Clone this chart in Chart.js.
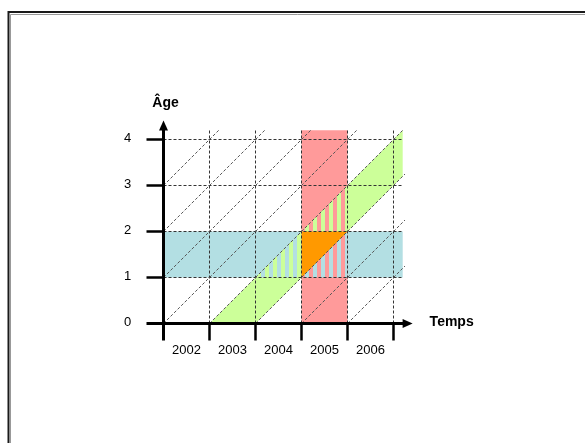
<!DOCTYPE html>
<html><head><meta charset="utf-8">
<script src="https://cdn.jsdelivr.net/npm/chart.js@4/dist/chart.umd.min.js"></script>
<style>html,body{margin:0;padding:0;background:#fff}canvas{display:block}</style>
</head><body>
<canvas id="c" width="585" height="443"></canvas>
<script>
// ---- data ----
const years = ['2002', '2003', '2004', '2005', '2006'];   // x tick labels (one per unit period)
const ages = [0, 1, 2, 3, 4];                              // y tick labels
const ageGroup = [1, 2];        // highlighted age group (blue band)
const period = [3, 4];          // highlighted year 2005 (red band), in units from 2002
const cohort = [1, 2];          // cohort born in 2003 (green band): time - age in [1,2]
const lifelines = [-3, -2, -1, 0, 1, 2, 3, 4];             // diagonal lifelines: time - age = c
const xTitle = 'Temps';
const yTitle = 'Âge';

// ---- extents of the drawn diagram ----
const T_MAX = 5.2, A_MAX = 4.2, T_DIAG = 5.25, T_AXIS = 5.22;

const BLUE = '#b3dfe3', RED = '#ff9a9a', GREEN = '#ccff99', ORANGE = '#ff9900';

function stripes(base, stripe) {
  const cv = document.createElement('canvas');
  cv.width = 8; cv.height = 4;
  const g = cv.getContext('2d');
  g.fillStyle = base; g.fillRect(0, 0, 8, 4);
  g.fillStyle = stripe; g.fillRect(1, 0, 4, 4);
  return g.createPattern(cv, 'repeat');
}

const [a0, a1] = ageGroup, [t0, t1] = period, [c0, c1] = cohort;
function poly(pts, color, order) {
  return { data: pts.map(p => ({x: p[0], y: p[1]})), showLine: true, fill: 'shape',
    backgroundColor: color, borderWidth: 0, borderColor: 'rgba(0,0,0,0)', pointRadius: 0, order };
}
function dashed(pts, color, order) {
  return { data: pts.map(p => ({x: p[0], y: p[1]})), showLine: true, fill: false,
    borderColor: color, borderWidth: 1, borderDash: [3, 2], pointRadius: 0, order };
}

const datasets = [];
datasets.push(poly([[0, a0], [T_MAX, a0], [T_MAX, a1], [0, a1]], BLUE, 100));
datasets.push(poly([[t0, 0], [t1, 0], [t1, A_MAX], [t0, A_MAX]], RED, 99));
datasets.push(poly([[c0, 0], [c1, 0], [T_MAX, T_MAX - c1], [T_MAX, T_MAX - c0]], GREEN, 98));
datasets.push(poly([[a0 + c0, a0], [t0, a0], [t0, t0 - c0]], stripes(BLUE, GREEN), 97));
datasets.push(poly([[t0, a1], [t1, a1], [t1, t1 - c0]], stripes(RED, GREEN), 96));
datasets.push(poly([[t0, a0], [t1, a0], [t1, a1]], stripes(RED, BLUE), 95));
datasets.push(poly([[t0, a0], [t0, a1], [t1, a1]], ORANGE, 94));
ages.slice(1).forEach(a => datasets.push(dashed([[0, a], [T_MAX, a]], '#333', 50)));
years.forEach((y, i) => { if (i > 0) datasets.push(dashed([[i, 0], [i, A_MAX]], '#333', 50)); });
datasets.push(dashed([[years.length, 0], [years.length, A_MAX]], '#333', 50));
lifelines.forEach(c => {
  const ts = Math.max(0, c), te = Math.min(T_DIAG, A_MAX + c);
  datasets.push(dashed([[ts, ts - c], [te, te - c]], '#555', 40));
});

const axesPlugin = {
  id: 'lexisAxes',
  beforeDraw(chart) {
    const ctx = chart.ctx;
    ctx.save();
    ctx.strokeStyle = '#1a1a1a'; ctx.lineWidth = 2;
    ctx.beginPath(); ctx.moveTo(8.5, 443); ctx.lineTo(8.5, 12); ctx.lineTo(585, 12); ctx.stroke();
    ctx.strokeStyle = '#999'; ctx.lineWidth = 1;
    ctx.beginPath(); ctx.moveTo(10.5, 443); ctx.lineTo(10.5, 14.5); ctx.lineTo(585, 14.5); ctx.stroke();
    ctx.restore();
  },
  afterDatasetsDraw(chart) {
    const ctx = chart.ctx, xs = chart.scales.x, ys = chart.scales.y;
    const X = v => xs.getPixelForValue(v), Y = v => ys.getPixelForValue(v);
    const x0 = X(0), y0 = Y(0), tick = 17;
    ctx.save();
    ctx.strokeStyle = '#000'; ctx.fillStyle = '#000'; ctx.lineWidth = 3;
    const xe = X(T_AXIS), ye = Y(4.22);
    ctx.beginPath();
    ctx.moveTo(x0 - tick, y0); ctx.lineTo(xe, y0);
    ctx.moveTo(x0, y0 + tick); ctx.lineTo(x0, ye);
    ctx.stroke();
    ctx.beginPath(); ctx.moveTo(xe + 9, y0); ctx.lineTo(xe - 1, y0 - 4.5); ctx.lineTo(xe - 1, y0 + 4.5); ctx.closePath(); ctx.fill();
    ctx.beginPath(); ctx.moveTo(x0, ye - 9); ctx.lineTo(x0 - 4.5, ye + 1); ctx.lineTo(x0 + 4.5, ye + 1); ctx.closePath(); ctx.fill();
    ctx.lineWidth = 2.5;
    ctx.beginPath();
    ages.slice(1).forEach(a => { ctx.moveTo(x0 - tick, Y(a)); ctx.lineTo(x0, Y(a)); });
    for (let i = 1; i <= years.length; i++) { ctx.moveTo(X(i), y0); ctx.lineTo(X(i), y0 + tick); }
    ctx.stroke();
    ctx.font = '13px "Liberation Sans", Arial, sans-serif';
    ctx.textAlign = 'center'; ctx.textBaseline = 'middle';
    ages.forEach(a => ctx.fillText(String(a), x0 - 36, Y(a) - 1));
    years.forEach((y, i) => ctx.fillText(y, X(i + 0.5), y0 + 27));
    ctx.font = 'bold 14px "Liberation Sans", Arial, sans-serif';
    ctx.fillText(yTitle, x0 + 2, ye - 26);
    ctx.textAlign = 'left';
    ctx.fillText(xTitle, xe + 26, y0 - 1);
    ctx.restore();
  }
};

new Chart(document.getElementById('c'), {
  type: 'scatter',
  data: { datasets },
  options: {
    responsive: false, animation: false,
    layout: { padding: { left: 25.5, right: 7.5, top: 47.5, bottom: 27.5 } },
    scales: {
      x: { type: 'linear', min: -3, max: 9, display: false },
      y: { type: 'linear', min: -2, max: 6, display: false }
    },
    plugins: { legend: { display: false }, tooltip: { enabled: false } },
    elements: { line: { tension: 0 } }
  },
  plugins: [axesPlugin]
});
</script>
</body></html>
